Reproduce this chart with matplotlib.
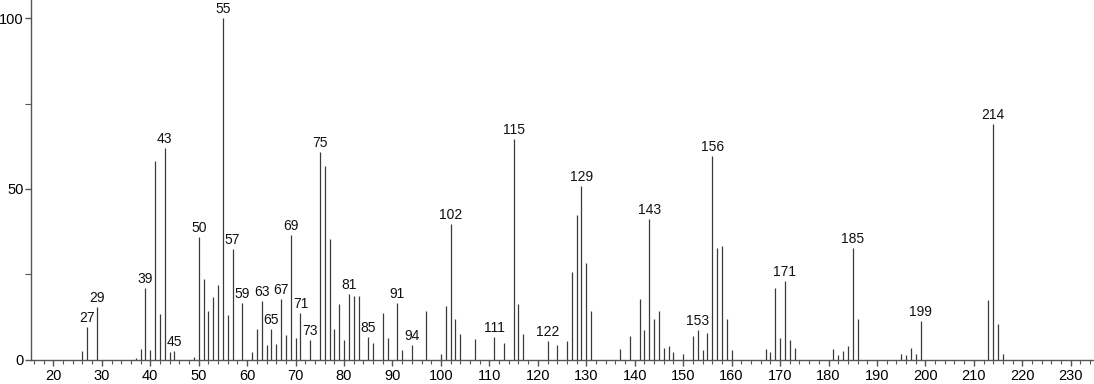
import matplotlib
matplotlib.use("Agg")
import matplotlib.pyplot as plt
from matplotlib.ticker import MultipleLocator, FixedLocator

plt.rcParams['font.family'] = ['Liberation Sans', 'DejaVu Sans']

mz = [26, 27, 29, 37, 38, 39, 40, 41, 42, 43, 44, 45, 49, 50, 51, 52, 53, 54, 55,
      56, 57, 59, 61, 62, 63, 64, 65, 66, 67, 68, 69, 70, 71, 73, 75, 76, 77, 78,
      79, 80, 81, 82, 83, 85, 86, 88, 89, 91, 92, 94, 97, 100, 101, 102, 103, 104,
      107, 111, 113, 115, 116, 117, 122, 124, 126, 127, 128, 129, 130, 131, 137,
      139, 141, 142, 143, 144, 145, 146, 147, 148, 150, 152, 153, 154, 155, 156,
      157, 158, 159, 160, 167, 168, 169, 170, 171, 172, 173, 181, 182, 183, 184,
      185, 186, 195, 196, 197, 198, 199, 213, 214, 215, 216]
intensity = [2.5, 9.6, 15.3, 0.5, 3.0, 21.0, 2.9, 58.2, 13.3, 61.9, 2.2, 2.5, 0.7,
             36.0, 23.6, 14.2, 18.4, 21.9, 100.0,
             13.0, 32.4, 16.7, 2.3, 8.9, 17.2, 4.2, 8.9, 4.5, 17.6, 7.2, 36.5, 6.3,
             13.5, 5.8, 60.9, 56.6, 35.2, 8.9,
             16.4, 5.7, 19.2, 18.7, 18.7, 6.6, 4.8, 13.6, 6.3, 16.7, 2.7, 4.2, 14.3,
             1.7, 15.8, 39.6, 11.9, 7.6,
             5.9, 6.5, 4.8, 64.6, 16.3, 7.6, 5.3, 4.2, 5.3, 25.6, 42.3, 50.8, 28.4,
             14.1, 3.2,
             6.8, 17.6, 8.6, 41.3, 11.9, 14.1, 3.4, 3.9, 2.1, 1.7, 6.8, 8.6, 2.7, 7.9,
             59.6,
             32.7, 33.3, 11.8, 2.7, 3.0, 2.1, 20.9, 6.3, 22.9, 5.6, 3.3, 3.0, 1.2, 2.4,
             4.0,
             32.7, 11.8, 1.7, 1.2, 3.3, 1.7, 11.2, 17.4, 68.9, 10.4, 1.5]
labeled = [27, 29, 39, 43, 45, 50, 55, 57, 59, 63, 65, 67, 69, 71, 73, 75, 81, 85,
           91, 94, 102, 111, 115, 122, 129, 143, 153, 156, 171, 185, 199, 214]

fig = plt.figure(figsize=(10.94, 3.84), dpi=100)
ax = fig.add_axes([0.0281, 0.0638, 0.9719, 0.9362])

ax.vlines(mz, 0, intensity, colors='#3a3a3a', linewidth=0.9)

lookup = dict(zip(mz, intensity))
for m in labeled:
    ax.annotate(str(m), xy=(m, lookup[m]), xytext=(0, 3.6), textcoords='offset points',
                ha='center', va='baseline', fontsize=10, color='#111111')

ax.set_xlim(15.33, 234.8)
ax.set_ylim(0, 105.4)

ax.spines['top'].set_visible(False)
ax.spines['right'].set_visible(False)
for s in ('left', 'bottom'):
    ax.spines[s].set_color('#555555')
    ax.spines[s].set_linewidth(1.0)

ax.xaxis.set_major_locator(FixedLocator(list(range(20, 231, 10))))
ax.xaxis.set_minor_locator(MultipleLocator(2))
ax.yaxis.set_major_locator(FixedLocator([0, 50, 100]))
ax.yaxis.set_minor_locator(FixedLocator([25, 75]))

ax.tick_params(axis='x', which='major', length=4.5, width=1, color='#555555',
               labelsize=10.5, pad=2.5)
ax.tick_params(axis='x', which='minor', length=3.2, width=0.8, color='#555555')
ax.tick_params(axis='y', which='major', length=4, width=1, color='#555555',
               labelsize=10.5, pad=1)
ax.tick_params(axis='y', which='minor', length=4, width=0.8, color='#555555')

fig.savefig('out.png', dpi=100)
